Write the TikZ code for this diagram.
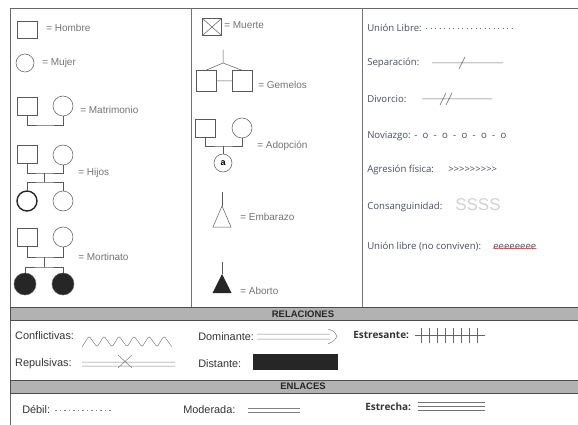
\documentclass[tikz,border=0pt]{standalone}
\usepackage{fontspec}
\setmainfont{Liberation Sans}
\newfontfamily\opfont{Open Sans}
\definecolor{slate}{RGB}{72,76,98}
\usetikzlibrary{decorations.pathmorphing}
\begin{document}
\begin{tikzpicture}[x=1pt, y=-1pt, line width=0.5pt,
	man/.style={draw=black!65, minimum width=20pt, minimum height=18pt, inner sep=0pt},
	woman/.style={draw=black!65, circle, minimum size=20pt, inner sep=0pt},
	kin/.style={draw=black!65},
	lbl/.style={anchor=west, inner sep=0pt, text=black!55, font=\fontsize{10}{11}\selectfont},
	tie/.style={anchor=west, inner sep=0pt, text=slate, font=\opfont\fontsize{9.6}{11}\selectfont},
	rel/.style={anchor=west, inner sep=0pt, text=black!80, font=\fontsize{10.9}{12}\selectfont},
	relb/.style={tie, text=black!80, font=\opfont\bfseries\fontsize{10}{12}\selectfont},
	band/.style={fill=black!30, draw=black!70},
	bandtext/.style={inner sep=0pt, text=black!85, font=\bfseries\fontsize{9.5}{10}\selectfont}]
\useasboundingbox (0,0) rectangle (578,425);
\draw[black!60] (10,425) -- (10,8) -- (578,8);
\draw[black!55] (191,8) -- (191,307) (362,8) -- (362,307);
\draw[band] (10,307) rectangle (578,320);
\draw[band] (10,380) rectangle (578,393);
\node[bandtext] (relaciones) at (303,314) {RELACIONES};
\node[bandtext] (enlaces) at (303,386) {ENLACES};
% genograma
\node[man, minimum height=17pt] (hombre) at (27,30) {};
\node[lbl] (thombre) at (46,28) {= Hombre};
\node[woman, minimum size=18pt] (mujer) at (25,63) {};
\node[lbl] (tmujer) at (42,63) {= Mujer};
\node[man] (m1) at (27,106) {};
\node[woman] (m2) at (63,106) {};
\draw[kin] (m1.south) |- (45,125) -| (m2.south);
\node[lbl] (tmatrimonio) at (80,110) {= Matrimonio};
\node[man] (h1) at (27,154) {};
\node[woman] (h2) at (63,155) {};
\coordinate (hm) at (44,173);
\coordinate (hs) at (44,182);
\node[woman, draw=black!85, line width=1.4pt] (h3) at (27,201) {};
\node[woman] (h4) at (63,201) {};
\draw[kin] (h1.south) |- (hm) -| (h2.south) (hm) -- (hs);
\draw[kin] (h3.north) |- (hs) -| (h4.north);
\node[lbl] (thijos) at (78,173) {= Hijos};
\node[man] (d1) at (27,237) {};
\node[woman] (d2) at (63,237) {};
\coordinate (dm) at (44,257);
\coordinate (ds) at (44,267);
\node[woman, fill=black!85, minimum size=22pt] (d3) at (25,284) {};
\node[woman, fill=black!85, minimum size=22pt] (d4) at (63,284) {};
\draw[kin] (d1.south) |- (dm) -| (d2.south) (dm) -- (ds);
\draw[kin] (d3.north) |- (ds) -| (d4.north);
\node[lbl] (tmortinato) at (78,257) {= Mortinato};
\node[man, minimum width=19pt, minimum height=17pt] (muerte) at (212,27) {};
\draw[kin] (muerte.north west) -- (muerte.south east) (muerte.north east) -- (muerte.south west);
\node[lbl] (tmuerte) at (224,25) {= Muerte};
\coordinate (gt) at (223,50);
\coordinate (gs) at (223,63);
\node[man, minimum height=21pt] (g1) at (206,81) {};
\node[man, minimum height=21pt] (g2) at (242,81) {};
\draw[kin] (gt) -- (gs) -- (g1.north) (gs) -- (g2.north) (g1) -- (g2);
\node[lbl] (tgemelos) at (258,85) {= Gemelos};
\node[man] (a1) at (205,128) {};
\node[woman] (a2) at (242,128) {};
\coordinate (am) at (223,146);
\node[circle, draw=black!65, minimum size=18pt, inner sep=0pt, font=\bfseries\small] (a3) at (223,163) {a};
\draw[kin] (a1.south) |- (am) -| (a2.south) (am) -- (a3.north);
\node[lbl] (tadopcion) at (257,146) {= Adopción};
\coordinate (et) at (222,192);
\coordinate (emb) at (222,206);
\draw[kin] (et) -- (emb);
\draw[kin] (emb) -- ++(-9,21) -- ++(18,0) -- cycle;
\node[lbl] (tembarazo) at (240,217) {= Embarazo};
\coordinate (abt) at (222,262);
\coordinate (abo) at (222,274);
\draw[kin] (abt) -- (abo);
\fill[black!85] (abo) -- ++(-9.5,19) -- ++(19,0) -- cycle;
\node[lbl] (taborto) at (240,291) {= Aborto};
% uniones
\node[tie] (ulibre) at (367,28) {Unión Libre:};
\draw[black!60, dash pattern=on 1pt off 3.5pt] (426,28) -- (513,28);
\node[tie] (separacion) at (367,63) {Separación:};
\draw[black!60] (432,63) -- (503,63) (459,69) -- (465,57);
\node[tie] (divorcio) at (367,99) {Divorcio:};
\draw[black!60] (422,99) -- (492,99) (440,105) -- (446,93) (446,105) -- (452,93);
\node[tie] (noviazgo) at (367,136) {Noviazgo:};
\node[tie] (tnoviazgo) at (414,136) {\spaceskip=5.3pt - o - o - o - o - o};
\node[tie] (agresion) at (367,170) {Agresión física:};
\node[tie, font=\opfont\fontsize{9.5}{10}\selectfont] (tagresion) at (448,170) {>>>>>>>>>};
\node[tie] (consang) at (367,207) {Consanguinidad:};
\node[tie, text=black!18, font=\fontsize{17}{18}\selectfont] (tconsang) at (455,205) {SSSS};
\node[tie] (unolibre) at (367,247) {Unión libre (no conviven):};
\node[tie] (tunolibre) at (493,247) {eeeeeeee};
\draw[red!80, decorate, decoration={snake, amplitude=0.6pt, segment length=2.5pt}]
	([yshift=1.5pt]tunolibre.south west) -- ([yshift=1.5pt]tunolibre.south east);
% relaciones
\node[rel] (conflictivas) at (15,336) {Conflictivas:};
\draw[black!50, rounded corners=2pt] (82,347)
	\foreach \i in {1,...,6} { -- ++(7,-11) -- ++(8,11) };
\node[rel] (dominante) at (198,337) {Dominante:};
\draw[black!50] (257,334) -- (330,334) (257,339) -- (330,339)
	(328,329) .. controls (334,331) .. (337,336.5) .. controls (334,341) .. (328,344);
\node[relb] (estresante) at (353,335) {Estresante:};
\draw[black!60] (415,335) -- (485,335);
\foreach \x in {421,429,...,469,477} \draw[black!60] (\x,328) -- (\x,343);
\node[rel] (repulsivas) at (15,364) {Repulsivas:};
\draw[black!50] (82,362) -- (175,362) (82,366) -- (175,366)
	(118,355) -- (132,368) (132,355) -- (118,368);
\node[rel] (distante) at (198,364) {Distante:};
\fill[black!85] (253,354) rectangle (338,370);
% enlaces
\node[rel] (debil) at (22,410) {Débil:};
\draw[black!50, dash pattern=on 1.5pt off 3pt] (55,410) -- (112,410);
\node[rel] (moderada) at (183,410) {Moderada:};
\draw[black!50] (248,408) -- (300,408) (248,412) -- (300,412);
\node[relb] (estrecha) at (365,407) {Estrecha:};
\foreach \y in {402,406,410} \draw[black!55] (418,\y) -- (485,\y);
\end{tikzpicture}
\end{document}
